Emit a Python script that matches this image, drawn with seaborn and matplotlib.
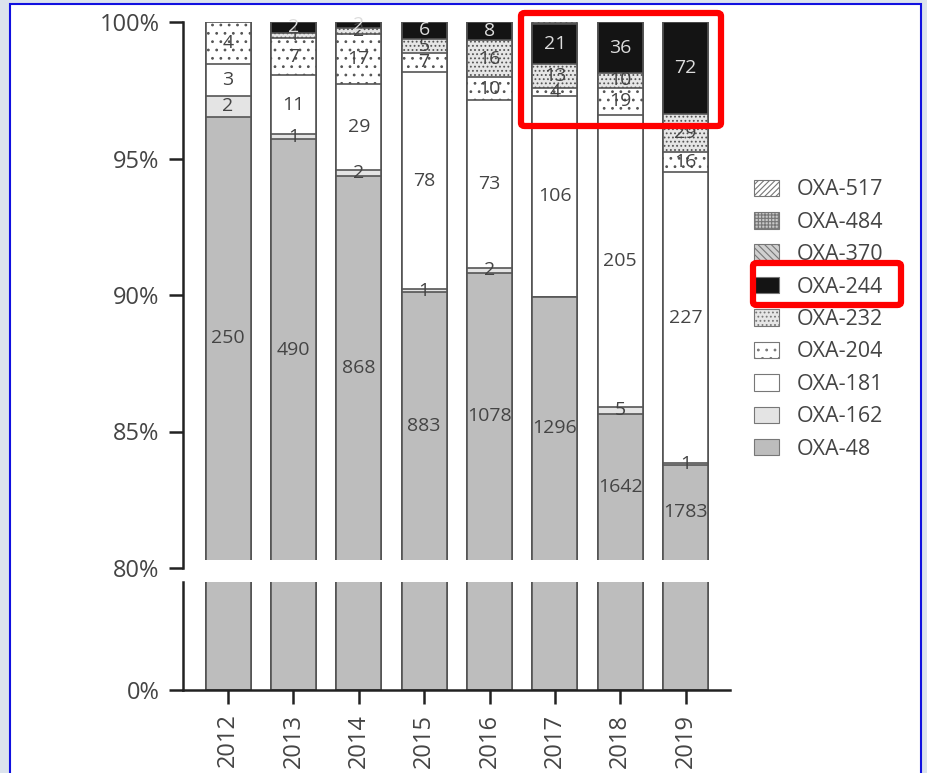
import numpy as np
import pandas as pd
import seaborn as sns
import matplotlib.pyplot as plt
from matplotlib.patches import Patch, Rectangle, FancyBboxPatch

# isolate counts per year
years = ["2012", "2013", "2014", "2015", "2016", "2017", "2018", "2019"]
oxa48 = [250, 490, 868, 883, 1078, 1296, 1642, 1783]
oxa162 = [2, 1, 2, 1, 2, 0, 5, 1]
oxa181 = [3, 11, 29, 78, 73, 106, 205, 227]
oxa204 = [4, 7, 17, 7, 10, 4, 19, 16]
oxa232 = [0, 1, 2, 5, 16, 13, 10, 29]
oxa244 = [0, 2, 2, 6, 8, 21, 36, 72]
oxa370 = [0, 0, 0, 0, 0, 0, 0, 0]
oxa484 = [0, 0, 0, 0, 0, 0, 0, 0]
oxa517 = [0, 0, 0, 0, 0, 1, 0, 0]

variants = ["OXA-48", "OXA-162", "OXA-181", "OXA-204", "OXA-232",
            "OXA-244", "OXA-370", "OXA-484", "OXA-517"]
counts = [oxa48, oxa162, oxa181, oxa204, oxa232, oxa244, oxa370, oxa484, oxa517]

colors = {"OXA-48": "#bdbdbd", "OXA-162": "#e4e4e4", "OXA-181": "white",
          "OXA-204": "white", "OXA-232": "#e6e6e6", "OXA-244": "#141414",
          "OXA-370": "#d0d0d0", "OXA-484": "#c8c8c8", "OXA-517": "white"}
hatches = {"OXA-48": None, "OXA-162": None, "OXA-181": None,
           "OXA-204": "..", "OXA-232": "....", "OXA-244": None,
           "OXA-370": "\\\\\\\\\\", "OXA-484": "+++++", "OXA-517": "//////"}

sns.set_theme(style="white")
plt.rcParams['font.family'] = ['Open Sans', 'DejaVu Sans']
plt.rcParams['hatch.linewidth'] = 0.8

df = pd.DataFrame(dict(zip(variants, counts)), index=years)
pct = df.div(df.sum(axis=1), axis=0) * 100
cum = pct.cumsum(axis=1)
cum["year"] = years

fig = plt.figure(figsize=(9.27, 7.73), dpi=100)
fig.patch.set_facecolor("#dbe3ed")
fig.patches.append(Rectangle((10 / 927, -0.01), 911 / 927, 1 - 4 / 773 + 0.01,
                             transform=fig.transFigure, facecolor="white",
                             edgecolor="#1010e0", lw=1.5, zorder=-5))

ax = fig.add_axes([183 / 927, 1 - 568 / 773, 547 / 927, 546 / 773])
ax2 = fig.add_axes([183 / 927, 1 - 690 / 773, 547 / 927, 108 / 773])

for a in (ax, ax2):
    # overlay cumulative bars, tallest first
    for v in reversed(variants):
        sns.barplot(data=cum, x="year", y=v, order=years, color=colors[v],
                    hatch=hatches[v], edgecolor="#555555", linewidth=1.2,
                    width=0.69, saturation=1, errorbar=None, ax=a)
    a.set_xlim(-0.69, 7.68)
    a.set_xlabel("")
    a.set_ylabel("")
    a.patch.set_alpha(0)
    for s in ("top", "right"):
        a.spines[s].set_visible(False)
    a.spines["left"].set_color("#222222")
    a.spines["left"].set_linewidth(1.8)
    a.tick_params(axis="both", direction="out", length=10, width=1.8,
                  color="#222222", labelsize=17, labelcolor="#444444",
                  left=True, bottom=True, pad=7)

ax.set_ylim(80, 100)
ax.set_yticks([80, 85, 90, 95, 100])
ax.set_yticklabels(["80%", "85%", "90%", "95%", "100%"])
ax.spines["bottom"].set_visible(False)
ax.tick_params(axis="x", bottom=False, labelbottom=False)
# small gap between bars and the break
ax.add_patch(Rectangle((0.004, 0), 1, 0.015, transform=ax.transAxes,
                       facecolor="white", edgecolor="none", zorder=1.8))

ax2.set_ylim(0, 8)
ax2.set_yticks([0])
ax2.set_yticklabels(["0%"])
ax2.spines["bottom"].set_color("#222222")
ax2.spines["bottom"].set_linewidth(1.8)
ax2.tick_params(axis="x", labelrotation=90)

# segment labels
for i, yr in enumerate(years):
    lo = 0.0
    for v in variants:
        hi = cum.loc[yr, v]
        n = df.loc[yr, v]
        if n > 0 and v != "OXA-517":
            yc = (max(lo, 80.3) + hi) / 2
            ax.text(i, yc, str(n), ha="center", va="center", fontsize=14,
                    color="#dddddd" if v == "OXA-244" else "#444444",
                    zorder=3)
        lo = hi

handles = [Patch(facecolor=colors[v], hatch=hatches[v], edgecolor="#777777",
                 lw=0.8, label=v) for v in reversed(variants)]
fig.legend(handles=handles, loc="upper left",
           bbox_to_anchor=(735 / 927, 1 - 160 / 773), frameon=False,
           fontsize=15.5, labelcolor="#444444", handlelength=1.15,
           handleheight=0.8, labelspacing=0.53, handletextpad=0.8)

# red highlight boxes
for x0, y0, x1, y1 in [(521, 13, 721, 126), (753, 263, 901, 305)]:
    fig.patches.append(FancyBboxPatch((x0 / 927, 1 - y1 / 773),
                                      (x1 - x0) / 927, (y1 - y0) / 773,
                                      boxstyle="round,pad=0,rounding_size=0.004",
                                      transform=fig.transFigure, fill=False,
                                      edgecolor="#ff0000", lw=4.5, zorder=10))

fig.savefig("out.png", dpi=100)
